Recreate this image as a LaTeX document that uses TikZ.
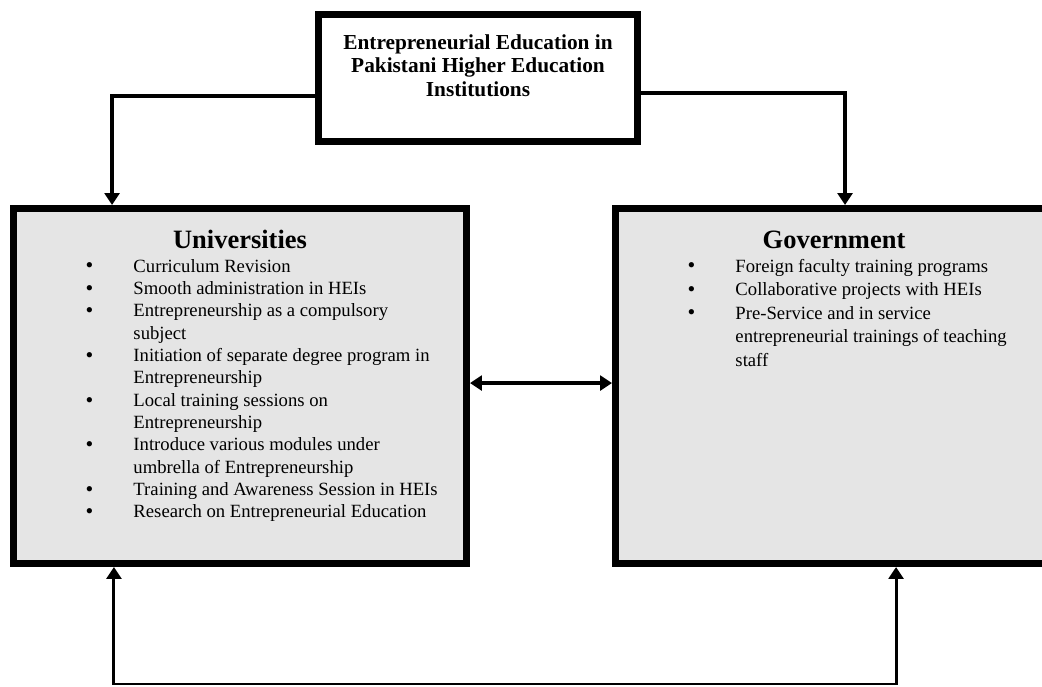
\documentclass[tikz,border=0pt]{standalone}
\usepackage{fontspec}
\setmainfont{Liberation Serif}
\usetikzlibrary{arrows.meta, positioning}
\tikzstyle{panel}=[draw,fill=black!10,rectangle,line width=5pt]
\tikzstyle{every node}=[inner sep=0pt]
\newcommand{\pxu}{0.68pt}
\newcommand{\dotmark}{\raisebox{-0.6pt}{\fontsize{15}{0}\selectfont\textbullet}}
\newcommand{\itm}[1]{\dotmark & #1\\}
\newcommand{\more}[1]{& #1\\}

\begin{document}
\begin{tikzpicture}[x=0.68pt, y=-0.68pt, >={Triangle[length=8pt,width=10pt]}, line width=2.3pt]
  \useasboundingbox (0,0) rectangle (1042,687);
  \clip (0,0) rectangle (1042,687);
  % the three boxes
  \node[panel, fill=white, minimum width=318.7*\pxu, minimum height=126.7*\pxu] (hub) at (478,78) {};
  \node[panel, minimum width=452.7*\pxu, minimum height=354.7*\pxu] (uni) at (240,386) {};
  \node[panel, minimum width=436.7*\pxu, minimum height=354.7*\pxu] (gov) at (834,386) {};
  % texts
  \node[anchor=base] (hubtxt) at (478,49) {\fontsize{14.5}{16.3}\selectfont\bfseries
    \begin{tabular}[t]{@{}c@{}}
      Entrepreneurial Education in\\
      Pakistani Higher Education\\
      Institutions
    \end{tabular}};
  \node[anchor=base] (unihead) at (240,248) {\fontsize{18}{20}\selectfont\bfseries Universities};
  \node[anchor=base west] (unilist) at (84,272) {\fontsize{12.7}{15.2}\selectfont
    \begin{tabular}[t]{@{}p{32.5pt}@{}l@{}}
      \itm{Curriculum Revision}
      \itm{Smooth administration in HEIs}
      \itm{Entrepreneurship as a compulsory}
      \more{subject}
      \itm{Initiation of separate degree program in}
      \more{Entrepreneurship}
      \itm{Local training sessions on}
      \more{Entrepreneurship}
      \itm{Introduce various modules under}
      \more{umbrella of Entrepreneurship}
      \itm{Training and Awareness Session in HEIs}
      \itm{Research on Entrepreneurial Education}
    \end{tabular}};
  \node[anchor=base] (govhead) at (834,248) {\fontsize{18}{20}\selectfont\bfseries Government};
  \node[anchor=base west] (govlist) at (686,272) {\fontsize{12.7}{16}\selectfont
    \begin{tabular}[t]{@{}p{32.5pt}@{}l@{}}
      \itm{Foreign faculty training programs}
      \itm{Collaborative projects with HEIs}
      \itm{Pre-Service and in service}
      \more{entrepreneurial trainings of teaching}
      \more{staff}
    \end{tabular}};
  % connectors
  \draw[->] ([yshift=-12.2pt]hub.west) -| ([xshift=-87pt]uni.north);
  \draw[->] ([yshift=-10.2pt]hub.east) -| ([xshift=7.5pt]gov.north);
  \draw[<->] ([yshift=2pt]uni.east) -- ([yshift=2pt]gov.west);
  \coordinate (loop) at (500,684);
  \draw[<->, line width=2pt] ([xshift=-85.7pt]uni.south) |- (loop) -| ([xshift=42.2pt]gov.south);
\end{tikzpicture}
\end{document}
